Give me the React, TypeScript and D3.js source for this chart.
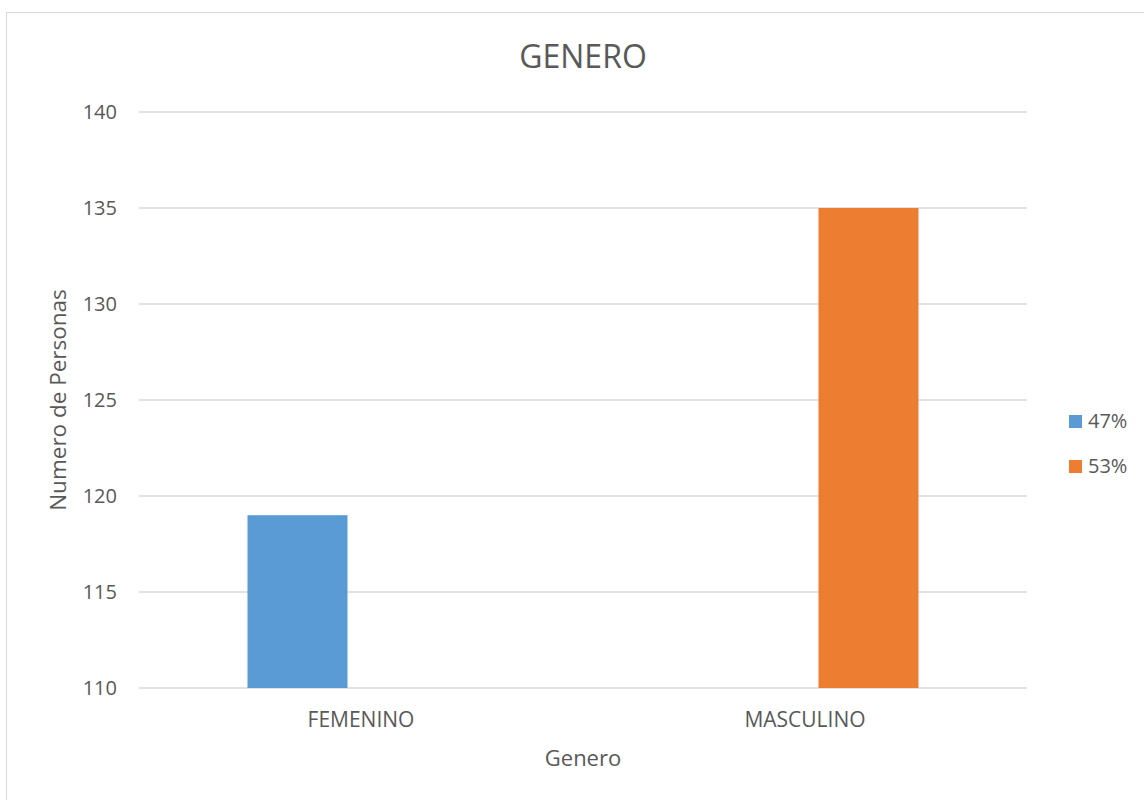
import React from "react";
import * as d3 from "d3";

const categories = ["FEMENINO", "MASCULINO"];
const seriesNames = ["47%", "53%"];
const seriesValues: (number | null)[][] = [
  [119, null],
  [null, 135],
];
const seriesColors = ["#5B9BD5", "#ED7D31"];
const yTicks = [110, 115, 120, 125, 130, 135, 140];

const W = 1144;
const H = 800;
const plot = { left: 139, right: 1027, top: 112, bottom: 688 };
const font = "'Open Sans', 'Liberation Sans', sans-serif";
const textColor = "#595959";

export default function App() {
  const x = d3
    .scaleBand<string>()
    .domain(categories)
    .range([plot.left, plot.right])
    .paddingInner(0.4887)
    .paddingOuter(0.4887 / 2);
  const xs = d3
    .scaleBand<string>()
    .domain(seriesNames)
    .range([0, x.bandwidth()])
    .paddingInner(0.2126);
  const y = d3.scaleLinear().domain([110, 140]).range([plot.bottom, plot.top]);
  const cx = (plot.left + plot.right) / 2;

  return (
    <svg
      width={W}
      height={H}
      style={{ position: "absolute", left: 0, top: 0, background: "#fff" }}
      fontFamily={font}
    >
      <rect x={0} y={0} width={W} height={H} fill="#fff" />
      <rect x={6.5} y={12.5} width={W + 20} height={H + 20} fill="none" stroke="#D9D9D9" strokeWidth={1} />
      <text x={cx} y={68} textAnchor="middle" fontSize={32} fill={textColor}>
        GENERO
      </text>
      {yTicks.map((t) => (
        <g key={t}>
          <line
            x1={plot.left}
            x2={plot.right}
            y1={y(t)}
            y2={y(t)}
            stroke="#D9D9D9"
            strokeWidth={1.3}
          />
          <text
            x={117}
            y={y(t)}
            dy="0.35em"
            textAnchor="end"
            fontSize={20}
            fill={textColor}
          >
            {t}
          </text>
        </g>
      ))}
      {seriesNames.map((s, si) =>
        categories.map((c, ci) => {
          const v = seriesValues[si][ci];
          if (v == null) return null;
          return (
            <rect
              key={s + c}
              x={(x(c) ?? 0) + (xs(s) ?? 0)}
              y={y(v)}
              width={xs.bandwidth()}
              height={y(110) - y(v)}
              fill={seriesColors[si]}
            />
          );
        })
      )}
      {categories.map((c) => (
        <text
          key={c}
          x={(x(c) ?? 0) + x.bandwidth() / 2}
          y={727}
          textAnchor="middle"
          fontSize={21}
          fill={textColor}
        >
          {c}
        </text>
      ))}
      <text x={cx} y={766} textAnchor="middle" fontSize={22} fill={textColor}>
        Genero
      </text>
      <text
        transform={`translate(66,${(plot.top + plot.bottom) / 2}) rotate(-90)`}
        textAnchor="middle"
        fontSize={22.5}
        fill={textColor}
      >
        Numero de Personas
      </text>
      {seriesNames.map((s, i) => (
        <g key={s} transform={`translate(1069,${415 + i * 45})`}>
          <rect x={0} y={0} width={13} height={13} fill={seriesColors[i]} />
          <text x={19} y={13} fontSize={20} fill={textColor}>
            {s}
          </text>
        </g>
      ))}
    </svg>
  );
}
